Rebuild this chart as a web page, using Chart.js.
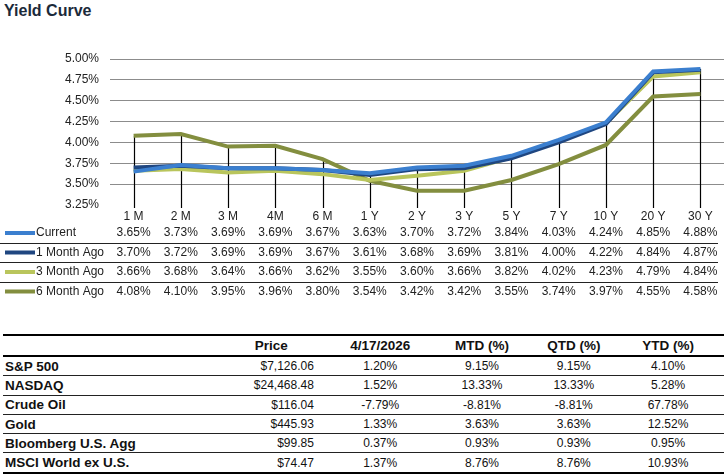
<!DOCTYPE html>
<html>
<head>
<meta charset="utf-8">
<script src="https://cdn.jsdelivr.net/npm/chart.js@4"></script>
<style>
  body { margin: 0; background: #fff; font-family: "Liberation Sans", Arial, sans-serif; }
  #wrap { position: relative; width: 724px; height: 474px; overflow: hidden; }
  #title { position: absolute; left: 4px; top: 2px; font-size: 16px; font-weight: bold; color: #1b2a3a; }
  #chartBox { position: absolute; left: 0; top: 0; width: 724px; height: 305px; }
  #mkt { position: absolute; left: 3px; top: 334px; border-collapse: collapse; font-size: 12px; color: #111; }
  #mkt th { font-size: 13.5px; font-weight: bold; height: 19px; padding: 0; border-top: 2.5px solid #000; border-bottom: 2px solid #000; }
  #mkt td { height: 18.3px; padding: 0; border-bottom: 1px solid #222; }
  #mkt tr:last-child td { border-bottom: 2px solid #000; }
  #mkt td.name { font-weight: bold; font-size: 13.5px; text-align: left; padding-left: 2px; }
  #mkt td.price { text-align: right; padding-right: 7px; }
  #mkt td.c, #mkt th.c { text-align: center; }
</style>
</head>
<body>
<div id="wrap">
  <div id="title">Yield Curve</div>
  <div id="chartBox"><canvas id="yc" width="724" height="305"></canvas></div>
  <table id="mkt"></table>
</div>
<script>
// yield curve data (%)
const tenors = ['1 M', '2 M', '3 M', '4M', '6 M', '1 Y', '2 Y', '3 Y', '5 Y', '7 Y', '10 Y', '20 Y', '30 Y'];
const current   = [3.65, 3.73, 3.69, 3.69, 3.67, 3.63, 3.70, 3.72, 3.84, 4.03, 4.24, 4.85, 4.88];
const monthAgo1 = [3.70, 3.72, 3.69, 3.69, 3.67, 3.61, 3.68, 3.69, 3.81, 4.00, 4.22, 4.84, 4.87];
const monthAgo3 = [3.66, 3.68, 3.64, 3.66, 3.62, 3.55, 3.60, 3.66, 3.82, 4.02, 4.23, 4.79, 4.84];
const monthAgo6 = [4.08, 4.10, 3.95, 3.96, 3.80, 3.54, 3.42, 3.42, 3.55, 3.74, 3.97, 4.55, 4.58];
const seriesNames = ['Current', '1 Month Ago', '3 Month Ago', '6 Month Ago'];
const seriesColors = ['#3b7fcf', '#1f4680', '#b9c55c', '#838e3f'];

// market table data
const assets = ['S&P 500', 'NASDAQ', 'Crude Oil', 'Gold', 'Bloomberg U.S. Agg', 'MSCI World ex U.S.'];
const prices = ['$7,126.06', '$24,468.48', '$116.04', '$445.93', '$99.85', '$74.47'];
const dayChg = ['1.20%', '1.52%', '-7.79%', '1.33%', '0.37%', '1.37%'];
const mtd    = ['9.15%', '13.33%', '-8.81%', '3.63%', '0.93%', '8.76%'];
const qtd    = ['9.15%', '13.33%', '-8.81%', '3.63%', '0.93%', '8.76%'];
const ytd    = ['4.10%', '5.28%', '67.78%', '12.52%', '0.95%', '10.93%'];
const headers = ['', 'Price', '4/17/2026', 'MTD (%)', 'QTD (%)', 'YTD (%)'];

const allSeries = [current, monthAgo1, monthAgo3, monthAgo6];
const FONT = '"Liberation Sans", Arial, sans-serif';

// black drop lines from the highest point to the axis
const dropLines = {
    id: 'dropLines',
    beforeDatasetsDraw(chart) {
        const ctx = chart.ctx, x = chart.scales.x, y = chart.scales.y;
        ctx.save();
        ctx.strokeStyle = '#000';
        ctx.lineWidth = 1.2;
        tenors.forEach((t, i) => {
            const top = Math.max(...allSeries.map(s => s[i]));
            const px = Math.round(x.getPixelForValue(i)) + 0.5;
            ctx.beginPath();
            ctx.moveTo(px, y.getPixelForValue(top));
            ctx.lineTo(px, chart.chartArea.bottom + 3);
            ctx.stroke();
        });
        ctx.restore();
    }
};

// data table under the axis
const dataTable = {
    id: 'dataTable',
    afterDraw(chart) {
        const ctx = chart.ctx, x = chart.scales.x;
        ctx.save();
        ctx.font = '12px ' + FONT;
        ctx.textBaseline = 'middle';
        allSeries.forEach((s, r) => {
            const rowY = 233 + r * 19.5;
            ctx.strokeStyle = seriesColors[r];
            ctx.lineWidth = 4;
            ctx.beginPath();
            ctx.moveTo(5, rowY);
            ctx.lineTo(35, rowY);
            ctx.stroke();
            ctx.fillStyle = '#222';
            ctx.textAlign = 'left';
            ctx.fillText(seriesNames[r], 36, rowY);
            ctx.textAlign = 'center';
            s.forEach((v, i) => ctx.fillText(v.toFixed(2) + '%', x.getPixelForValue(i), rowY));
            if (r < allSeries.length - 1) {
                ctx.strokeStyle = '#222';
                ctx.lineWidth = 1;
                ctx.beginPath();
                ctx.moveTo(0, Math.round(rowY + 9.75) + 0.5);
                ctx.lineTo(718, Math.round(rowY + 9.75) + 0.5);
                ctx.stroke();
            }
        });
        ctx.restore();
    }
};

new Chart(document.getElementById('yc'), {
    type: 'line',
    data: {
        labels: tenors,
        datasets: allSeries.map((s, i) => ({
            label: seriesNames[i],
            data: s,
            borderColor: seriesColors[i],
            borderWidth: 4,
            pointRadius: 0,
            tension: 0,
            fill: false
        }))
    },
    options: {
        responsive: false,
        animation: false,
        layout: { padding: { top: 59, left: 0, right: 0, bottom: 0 } },
        plugins: { legend: { display: false }, tooltip: { enabled: false } },
        scales: {
            x: {
                offset: true,
                grid: { display: false, drawTicks: false },
                border: { display: false },
                ticks: { color: '#222', font: { family: FONT, size: 12 }, padding: 4, maxRotation: 0, autoSkip: false },
                afterFit(scale) { scale.height = 100; }
            },
            y: {
                min: 3.25,
                max: 5.0,
                border: { display: false },
                grid: {
                    drawTicks: false,
                    color: ctx => ctx.tick && ctx.tick.value <= 3.25 ? 'rgba(0,0,0,0)' : '#8c8c8c',
                    lineWidth: 1
                },
                ticks: {
                    stepSize: 0.25,
                    padding: 11,
                    color: '#222',
                    font: { family: FONT, size: 12 },
                    callback: v => v.toFixed(2) + '%'
                },
                afterFit(scale) { scale.width = 110; }
            }
        }
    },
    plugins: [dropLines, dataTable]
});

// market table
const colClass = ['', '', 'c', 'c', 'c', 'c'];
const widths = [222, 100, 120, 86, 100, 91];
let html = '<tr>' + headers.map((h, i) =>
    `<th class="${colClass[i]}" style="width:${widths[i]}px;${i === 5 ? 'padding-right:11px;' : ''}${i === 1 ? 'text-align:center;' : ''}">${h}</th>`).join('') + '</tr>';
assets.forEach((a, r) => {
    html += '<tr>' +
        `<td class="name">${a.replace('&', '&amp;')}</td>` +
        `<td class="price">${prices[r]}</td>` +
        `<td class="c">${dayChg[r]}</td>` +
        `<td class="c">${mtd[r]}</td>` +
        `<td class="c">${qtd[r]}</td>` +
        `<td class="c" style="padding-right:11px;">${ytd[r]}</td>` +
        '</tr>';
});
document.getElementById('mkt').innerHTML = html;
</script>
</body>
</html>
